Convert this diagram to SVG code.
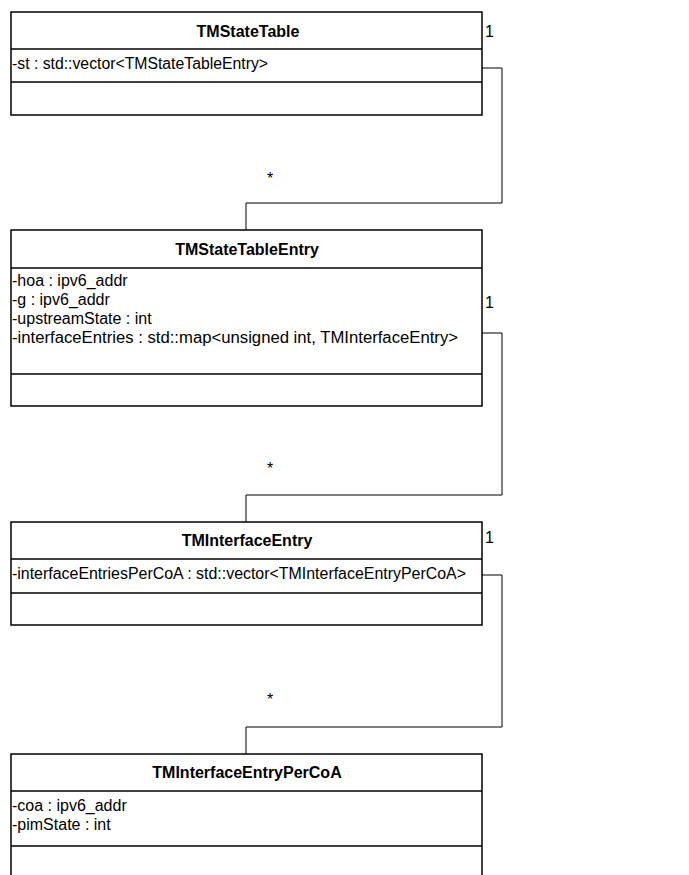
<svg xmlns="http://www.w3.org/2000/svg" width="689" height="875" viewBox="0 0 689 875">
  <style>
    .box { fill: #ffffff; stroke: #000000; stroke-width: 1.5; }
    .div { stroke: #000000; stroke-width: 1.5; fill: none; }
    .title { font-family: "Liberation Sans", Arial, sans-serif; font-size: 16px; font-weight: bold; text-anchor: middle; fill: #000000; }
    .attr { font-family: "Liberation Sans", Arial, sans-serif; font-size: 16px; fill: #000000; }
    .mult { font-family: "Liberation Sans", Arial, sans-serif; font-size: 16px; fill: #000000; }
    .conn { stroke: #000000; stroke-width: 1; fill: none; }
  </style>
  <rect width="689" height="875" fill="#ffffff"/>

  <!-- associations with their multiplicities -->
  <g id="connectors">
    <path class="conn" d="M482,68 H502 V203 H246 V230"/>
    <path class="conn" d="M482,333 H502 V495 H246 V522"/>
    <path class="conn" d="M482,575 H502 V727 H246 V754"/>
    <text class="mult" x="485" y="37">1</text>
    <text class="mult" x="267" y="184">*</text>
    <text class="mult" x="485" y="308">1</text>
    <text class="mult" x="267" y="474">*</text>
    <text class="mult" x="485" y="543">1</text>
    <text class="mult" x="267" y="705">*</text>
  </g>

  <g id="TMStateTable">
    <rect class="box" x="11" y="12" width="471" height="103"/>
    <line class="div" x1="11" y1="49" x2="482" y2="49"/>
    <line class="div" x1="11" y1="82" x2="482" y2="82"/>
    <text class="title" x="248" y="37">TMStateTable</text>
    <text class="attr" x="12" y="69" textLength="256" lengthAdjust="spacingAndGlyphs">-st : std::vector&lt;TMStateTableEntry&gt;</text>
  </g>

  <g id="TMStateTableEntry">
    <rect class="box" x="11" y="230" width="471" height="176"/>
    <line class="div" x1="11" y1="268" x2="482" y2="268"/>
    <line class="div" x1="11" y1="374" x2="482" y2="374"/>
    <text class="title" x="247" y="255">TMStateTableEntry</text>
    <text class="attr" x="12" y="286">-hoa : ipv6_addr</text>
    <text class="attr" x="12" y="305">-g : ipv6_addr</text>
    <text class="attr" x="12" y="324">-upstreamState : int</text>
    <text class="attr" x="12" y="343" textLength="446" lengthAdjust="spacingAndGlyphs">-interfaceEntries : std::map&lt;unsigned int, TMInterfaceEntry&gt;</text>
  </g>

  <g id="TMInterfaceEntry">
    <rect class="box" x="11" y="522" width="471" height="103"/>
    <line class="div" x1="11" y1="559" x2="482" y2="559"/>
    <line class="div" x1="11" y1="593" x2="482" y2="593"/>
    <text class="title" x="247" y="546">TMInterfaceEntry</text>
    <text class="attr" x="12" y="579" textLength="454" lengthAdjust="spacingAndGlyphs">-interfaceEntriesPerCoA : std::vector&lt;TMInterfaceEntryPerCoA&gt;</text>
  </g>

  <g id="TMInterfaceEntryPerCoA">
    <rect class="box" x="11" y="754" width="471" height="140"/>
    <line class="div" x1="11" y1="791" x2="482" y2="791"/>
    <line class="div" x1="11" y1="846" x2="482" y2="846"/>
    <text class="title" x="247" y="778">TMInterfaceEntryPerCoA</text>
    <text class="attr" x="12" y="811">-coa : ipv6_addr</text>
    <text class="attr" x="12" y="830">-pimState : int</text>
  </g>
</svg>
